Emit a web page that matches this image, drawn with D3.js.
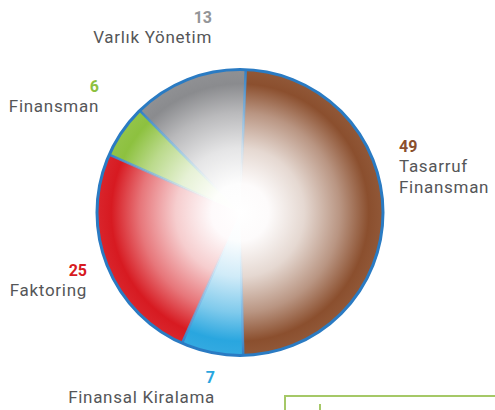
<!DOCTYPE html>
<html>
<head>
<meta charset="utf-8">
<script src="https://cdn.jsdelivr.net/npm/d3@7"></script>
<style>
  html, body { margin: 0; padding: 0; background: #fff; }
  svg { display: block; }
</style>
</head>
<body>
<svg id="chart" width="495" height="410"></svg>
<script>
// Sector shares (%), clockwise from the top
const categories = ["Tasarruf Finansman", "Finansal Kiralama", "Faktoring", "Finansman", "Varlık Yönetim"];
const labelLines = [["Tasarruf", "Finansman"], ["Finansal Kiralama"], ["Faktoring"], ["Finansman"], ["Varlık Yönetim"]];
const values = [49, 7, 25, 6, 13];
const colors = ["#8b4f2e", "#29a6df", "#d71a21", "#8dc13f", "#8a8b8e"];
const numberColors = ["#8b4f2e", "#29a6df", "#d71a21", "#8dc13f", "#939598"];

const svg = d3.select("#chart");
const cx = 240, cy = 212.5, R = 143;
const defs = svg.append("defs");

// radial fade from white in the middle to the full slice colour at the rim
colors.forEach((c, i) => {
  const gr = defs.append("radialGradient")
    .attr("id", "fill" + i)
    .attr("gradientUnits", "userSpaceOnUse")
    .attr("cx", 0).attr("cy", 0).attr("r", R);
  const mix = t => d3.interpolateRgb("#ffffff", c)(t);
  [[0, 0], [0.2, 0.02], [0.45, 0.22], [0.7, 0.6], [0.9, 1], [1, 0.95]].forEach(([o, t]) =>
    gr.append("stop").attr("offset", o).attr("stop-color", mix(t)));
});

// separator strokes: blue at the rim fading out toward the middle
const sep = defs.append("radialGradient")
  .attr("id", "sep")
  .attr("gradientUnits", "userSpaceOnUse")
  .attr("cx", 0).attr("cy", 0).attr("r", R);
sep.append("stop").attr("offset", 0.15).attr("stop-color", "#ffffff").attr("stop-opacity", 0);
sep.append("stop").attr("offset", 0.6).attr("stop-color", "#8cc3ec").attr("stop-opacity", 0.7);
sep.append("stop").attr("offset", 1).attr("stop-color", "#2f7fc6").attr("stop-opacity", 1);

const offset = 2.3 * Math.PI / 180;
const pie = d3.pie().sort(null)
  .startAngle(offset).endAngle(offset + 2 * Math.PI)
  .value(d => d);
const arcs = pie(values);
const arc = d3.arc().innerRadius(0).outerRadius(R);

const g = svg.append("g").attr("transform", `translate(${cx},${cy})`);

g.selectAll("path.slice").data(arcs).join("path")
  .attr("class", "slice")
  .attr("d", arc)
  .attr("fill", (d, i) => `url(#fill${i})`);

// radial separators
g.selectAll("line.sep").data(arcs).join("line")
  .attr("class", "sep")
  .attr("x1", 0).attr("y1", 0)
  .attr("x2", d => R * Math.sin(d.startAngle))
  .attr("y2", d => -R * Math.cos(d.startAngle))
  .attr("stroke", "url(#sep)")
  .attr("stroke-width", 2.5);

// outer rim
g.append("circle")
  .attr("r", R)
  .attr("fill", "none")
  .attr("stroke", "#2a7bc3")
  .attr("stroke-width", 3);

// labels: bold value above the category name
const labelPos = [
  { x: 399, y: 152, anchor: "start" },
  { x: 215, y: 383, anchor: "end" },
  { x: 87, y: 276, anchor: "end" },
  { x: 99, y: 92, anchor: "end" },
  { x: 212, y: 23, anchor: "end" }
];
const font = "Roboto, 'Open Sans', sans-serif";
labelPos.forEach((p, i) => {
  const t = svg.append("g");
  t.append("text")
    .attr("x", p.x).attr("y", p.y)
    .attr("text-anchor", p.anchor)
    .attr("font-family", font)
    .attr("font-weight", 700)
    .attr("font-size", 16)
    .attr("fill", numberColors[i])
    .text(values[i]);
  labelLines[i].forEach((ln, j) => {
    t.append("text")
      .attr("x", p.x).attr("y", p.y + 20 + j * 21)
      .attr("text-anchor", p.anchor)
      .attr("font-family", font)
      .attr("font-size", 17)
      .attr("letter-spacing", 0.7)
      .attr("fill", "#555658")
      .text(ln);
  });
});

// corner of the neighbouring green panel
const frame = svg.append("g").attr("fill", "none").attr("stroke", "#a5c867").attr("stroke-width", 2);
frame.append("path").attr("d", "M285,412 V396 H497");
frame.append("path").attr("d", "M320,412 V404");
</script>
</body>
</html>
